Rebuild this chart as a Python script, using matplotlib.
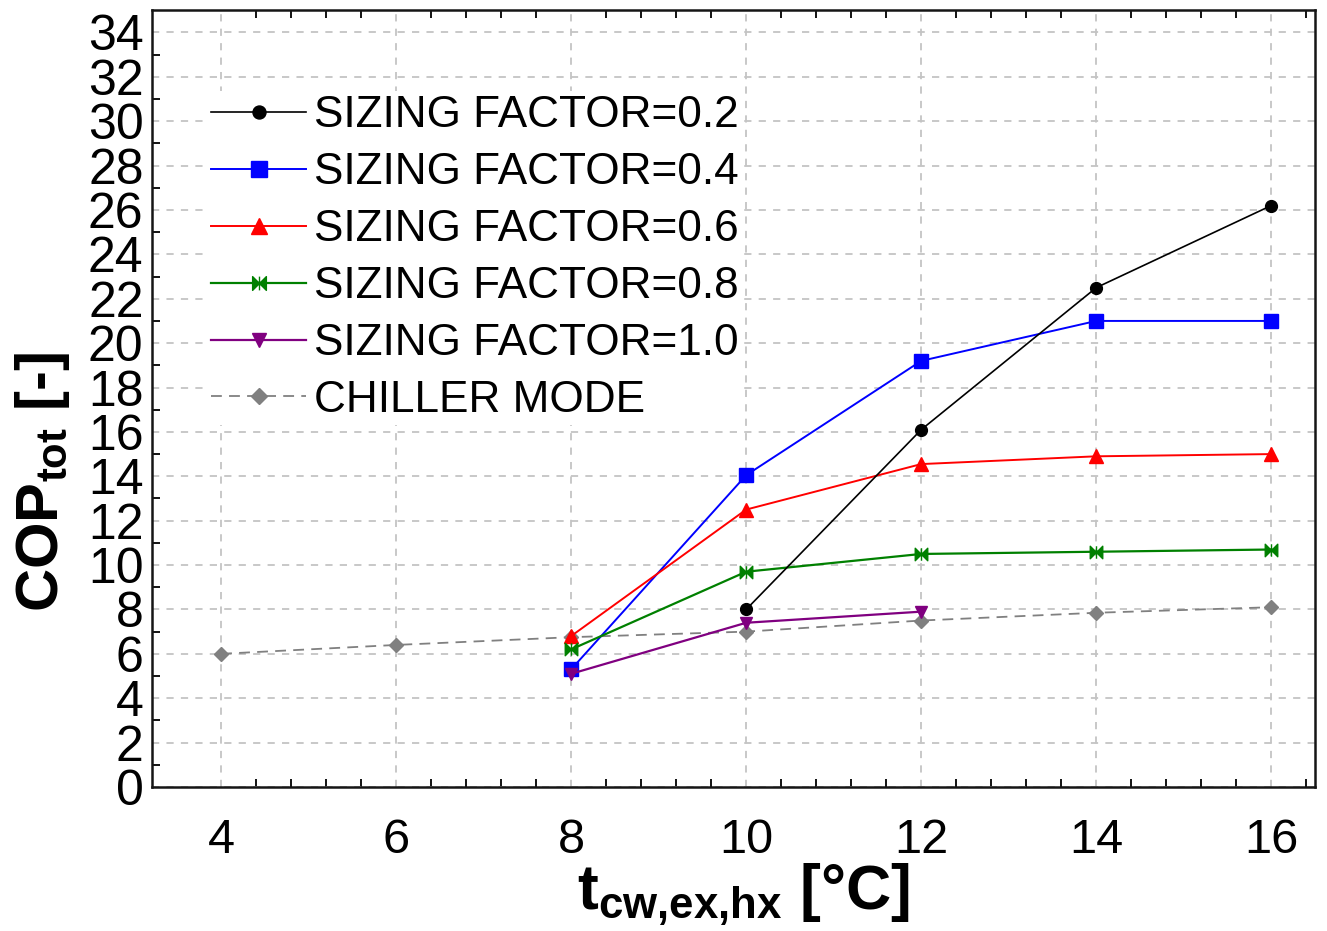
#!/usr/bin/env python3

import matplotlib

matplotlib.use("Agg")
import matplotlib.pyplot as plt
from matplotlib.path import Path
from matplotlib.ticker import FixedLocator, MultipleLocator

# cooling water temperature at the heat exchanger outlet [°C]
T_ALL = [4, 6, 8, 10, 12, 14, 16]
T_SF02 = [10, 12, 14, 16]
T_SF04 = [8, 10, 12, 14, 16]
T_SF06 = [8, 10, 12, 14, 16]
T_SF08 = [8, 10, 12, 14, 16]
T_SF10 = [8, 10, 12]

COP_SF02 = [8.0, 16.1, 22.5, 26.2]
COP_SF04 = [5.3, 14.05, 19.2, 21.0, 21.0]
COP_SF06 = [6.8, 12.5, 14.55, 14.9, 15.0]
COP_SF08 = [6.2, 9.7, 10.5, 10.6, 10.7]
COP_SF10 = [5.1, 7.4, 7.9]
COP_CHILLER = [6.0, 6.4, 6.75, 7.0, 7.5, 7.85, 8.1]

LABELS = [
    "SIZING FACTOR=0.2",
    "SIZING FACTOR=0.4",
    "SIZING FACTOR=0.6",
    "SIZING FACTOR=0.8",
    "SIZING FACTOR=1.0",
    "CHILLER MODE",
]

plt.rcParams["font.family"] = ["Liberation Sans", "DejaVu Sans"]
plt.rcParams["mathtext.fontset"] = "custom"
plt.rcParams["mathtext.rm"] = "Liberation Sans:bold"
plt.rcParams["mathtext.it"] = "Liberation Sans:bold"
plt.rcParams["mathtext.bf"] = "Liberation Sans:bold"

# two triangles meeting at the centre with a bar through them
BOWTIE = Path(
    [(-1, -1), (0, 0), (-1, 1), (-1, -1),
     (1, -1), (0, 0), (1, 1), (1, -1),
     (0, -1), (0, 1)],
    [Path.MOVETO, Path.LINETO, Path.LINETO, Path.CLOSEPOLY,
     Path.MOVETO, Path.LINETO, Path.LINETO, Path.CLOSEPOLY,
     Path.MOVETO, Path.LINETO],
)


def main():
    fig = plt.figure(figsize=(13.27, 9.31), dpi=100)
    ax = fig.add_axes([0.1145, 0.1547, 0.8765, 0.8343])

    ax.plot(T_SF02, COP_SF02, color="black", lw=1.2, marker="o", ms=8.5,
            label=LABELS[0], zorder=5)
    ax.plot(T_SF04, COP_SF04, color="#0000ff", lw=1.4, marker="s", ms=10.5,
            label=LABELS[1], zorder=4)
    ax.plot(T_SF06, COP_SF06, color="#ff0000", lw=1.4, marker="^", ms=10,
            label=LABELS[2], zorder=4)
    ax.plot(T_SF08, COP_SF08, color="#008000", lw=1.6, marker=BOWTIE, ms=9,
            label=LABELS[3], zorder=4)
    ax.plot(T_SF10, COP_SF10, color="#800080", lw=1.6, marker="v", ms=9,
            label=LABELS[4], zorder=4)
    ax.plot(T_ALL, COP_CHILLER, color="#808080", lw=1.3, ls=(0, (6, 4)),
            marker="D", ms=7, label=LABELS[5], zorder=3)

    ax.set_xlim(3.21, 16.5)
    ax.set_ylim(0, 35)
    ax.xaxis.set_major_locator(MultipleLocator(2))
    x_minor = [4 + 0.4 * k for k in range(32) if k % 5 != 0]
    ax.xaxis.set_minor_locator(FixedLocator(x_minor))
    ax.yaxis.set_major_locator(MultipleLocator(2))
    ax.yaxis.set_minor_locator(FixedLocator(list(range(1, 35, 2))))

    ax.tick_params(axis="both", which="both", direction="in", color="black",
                   width=1.3)
    ax.tick_params(axis="both", which="major", length=0)
    ax.tick_params(axis="both", which="minor", length=6)
    ax.tick_params(axis="x", which="both", top=True)
    ax.tick_params(axis="x", which="major", pad=22, labelsize=35)
    ax.tick_params(axis="y", which="major", pad=6, labelsize=36)

    ax.grid(True, which="major", color="#c4c4c4", ls=(0, (4, 4)), lw=1.3)
    for side in ax.spines.values():
        side.set_linewidth(1.8)
        side.set_color("#151515")

    ax.set_xlabel(r"t$_{cw{,}ex{,}hx}$ [°C]", fontsize=45, fontweight="bold",
                  va="center")
    ax.xaxis.set_label_coords(0.509, -0.139)
    ax.set_ylabel(r"COP$_{tot}$ [-]", fontsize=43, fontweight="bold",
                  va="center")
    ax.yaxis.set_label_coords(-0.094, 0.393)

    leg = ax.legend(loc="upper left", bbox_to_anchor=(0.047, 0.896),
                    fontsize=31.8, frameon=True, fancybox=False,
                    handlelength=2.16, handletextpad=0.18, labelspacing=0.36,
                    borderpad=0.1, borderaxespad=0, markerscale=1.1)
    leg.get_frame().set_facecolor("white")
    leg.get_frame().set_edgecolor("none")
    leg.get_frame().set_alpha(1.0)

    fig.savefig("out.png", dpi=100)
    plt.close(fig)


if __name__ == "__main__":
    main()
